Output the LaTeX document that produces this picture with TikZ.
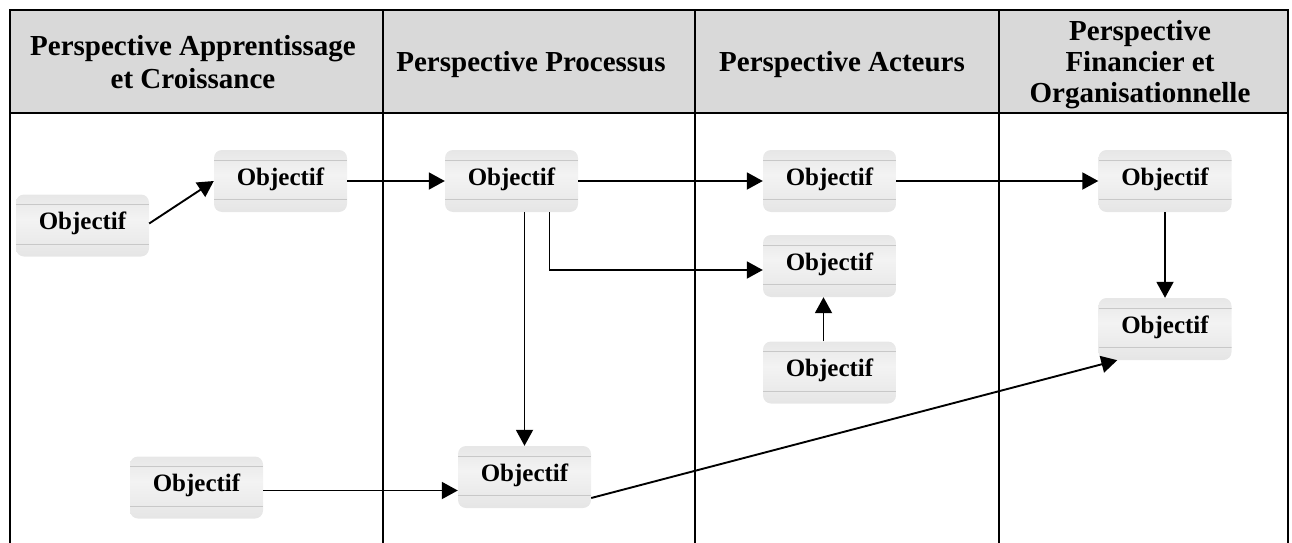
\documentclass[tikz,border=0pt]{standalone}
\usepackage{fontspec}
\setmainfont{Liberation Serif}
\usetikzlibrary{arrows.meta,calc}

\definecolor{headgray}{HTML}{D9D9D9}
\definecolor{boxedge}{HTML}{D6D6D6}
\definecolor{boxmid}{HTML}{E4E4E4}
\definecolor{boxlight}{HTML}{F3F3F3}
\definecolor{boxrule}{HTML}{C8C8C8}

% soft vertical gradient of the objective boxes
\pgfdeclareverticalshading{objshade}{100bp}{%
  color(0bp)=(boxedge); color(14bp)=(boxedge); color(22bp)=(boxmid);
  color(55bp)=(boxlight); color(80bp)=(boxmid); color(86bp)=(boxedge);
  color(100bp)=(boxedge)}

\tikzset{
  tableline/.style={line width=2.6pt, black},
  head/.style={align=center, font=\bfseries\fontsize{29}{33}\selectfont},
  obj/.style={rounded corners=8pt, minimum width=133pt, minimum height=62pt,
    inner sep=0pt, shading=objshade,
    font=\bfseries\fontsize{25}{25}\selectfont, text height=17pt, text depth=9pt,
    path picture={
      \foreach \f in {0.16,0.80}{
        \draw[boxrule, line width=0.8pt]
          ($(path picture bounding box.north west)!\f!(path picture bounding box.south west)$) --
          ($(path picture bounding box.north east)!\f!(path picture bounding box.south east)$);
      }}},
  conn/.style={line width=1.9pt, -{Triangle[length=16pt,width=17pt]}}
}

\begin{document}
\begin{tikzpicture}[x=1pt,y=-1pt]
\useasboundingbox (0,0) rectangle (1292,543);

% table: header band, frame and column dividers
\fill[headgray] (10,10) rectangle (1288,113);
\draw[tableline] (10,545) -- (10,10) -- (1288,10) -- (1288,545);
\draw[tableline] (10,113) -- (1288,113);
\foreach \x in {383,695,999} \draw[tableline] (\x,10) -- (\x,545);

% column headings
\node[head] (h1) at (193,61.75) {Perspective Apprentissage\\et Croissance};
\node[head] (h2) at (531,65) {Perspective Processus};
\node[head] (h3) at (842,65) {Perspective Acteurs};
\node[head, font=\bfseries\fontsize{29}{31}\selectfont] (h4) at (1140,64.5)
  {Perspective\\Financier et\\Organisationnelle};

% objectives
\node[obj] (a1) at (82.5,225.5) {Objectif};
\node[obj] (a2) at (280.5,181) {Objectif};
\node[obj] (a3) at (196.5,487.5) {Objectif};
\node[obj] (p1) at (511.5,181) {Objectif};
\node[obj] (p2) at (524.5,477) {Objectif};
\node[obj] (c1) at (829.5,181) {Objectif};
\node[obj] (c2) at (829.5,266) {Objectif};
\node[obj] (c3) at (829.5,372.5) {Objectif};
\node[obj] (f1) at (1165,181) {Objectif};
\node[obj] (f2) at (1165,329) {Objectif};

% links between objectives
\draw[conn] ([yshift=2pt]a1.east) -- (a2.west);
\draw[conn] (a2.east) -- (p1.west);
\draw[conn] (p1.east) -- (c1.west);
\draw[conn] (c1.east) -- (f1.west);
\draw[conn] (p1.south -| p2.north) -- (p2.north);
\draw[conn] ([xshift=38pt]p1.south) |- ([yshift=-4pt]c2.west);
\draw[conn] ([xshift=-6pt]c3.north) -- ([xshift=-6pt]c2.south);
\draw[conn] (f1.south) -- (f2.north);
\draw[conn] ([yshift=-3pt]a3.east) -- ([yshift=-3pt]a3.east -| p2.west);
\draw[conn] ([yshift=-21pt]p2.east) -- ([xshift=19pt]f2.south west);
\end{tikzpicture}
\end{document}
